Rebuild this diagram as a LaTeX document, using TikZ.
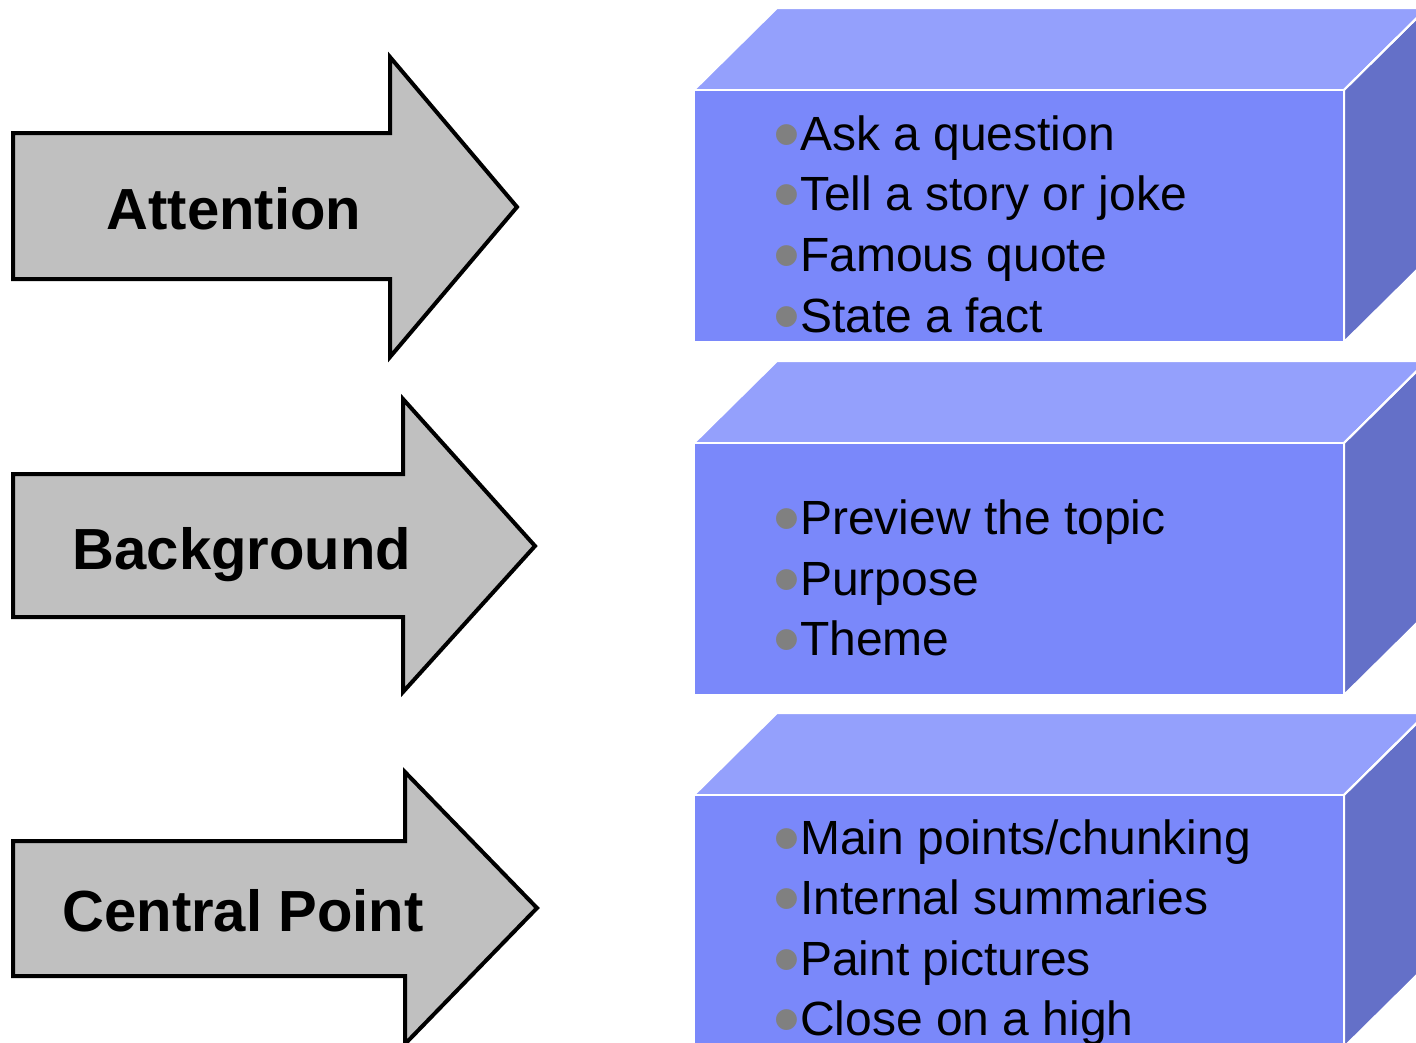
\documentclass[tikz,border=0pt]{standalone}
\usepackage{fontspec}
\usepackage{graphicx}
\setmainfont{Liberation Sans}
\definecolor{topface}{RGB}{148,160,252}
\definecolor{frontface}{RGB}{122,136,250}
\definecolor{sideface}{RGB}{100,112,200}
\definecolor{arrowfill}{RGB}{192,192,192}
\definecolor{bgray}{RGB}{128,128,128}
\newcommand{\bul}{\smash{\textcolor{bgray}{\raisebox{-10pt}{\scalebox{1.6}{•}}}}}
\tikzset{
  bigarrow/.style={draw=black, line width=4pt, fill=arrowfill, line join=miter},
  facetop/.style={fill=topface, draw=white, line width=2pt},
  facefront/.style={fill=frontface, draw=white, line width=2pt},
  faceside/.style={fill=sideface, draw=white, line width=2pt},
  arrowlabel/.style={font=\fontsize{58}{64}\selectfont\bfseries, anchor=base, inner sep=0pt},
  item/.style={font=\fontsize{48}{54}\selectfont, anchor=base west, inner sep=0pt, text=black},
}
\newcommand{\cube}[1]{%
  \fill[facetop] (694,#1) -- (777,#1-82) -- (1427,#1-82) -- (1344,#1) -- cycle;
  \fill[faceside] (1344,#1) -- (1427,#1-82) -- (1427,#1+170) -- (1344,#1+252) -- cycle;
  \fill[facefront] (694,#1) rectangle (1344,#1+252);
  \draw[white, line width=2pt] (694,#1) -- (1344,#1) -- (1344,#1+252);
  \draw[white, line width=2pt] (1344,#1) -- (1427,#1-82);
}
\begin{document}
\begin{tikzpicture}[x=1pt,y=-1pt]
\useasboundingbox (0,0) rectangle (1416,1042);
\clip (0,0) rectangle (1416,1042);
\fill[white] (0,0) rectangle (1416,1042);
% arrows
\draw[bigarrow] (13,133) -- (390,133) -- (390,57) -- (517,207) -- (390,357) -- (390,279) -- (13,279) -- cycle;
\draw[bigarrow] (13,474) -- (403,474) -- (403,399) -- (535,546) -- (403,692) -- (403,617) -- (13,617) -- cycle;
\draw[bigarrow] (13,841) -- (405,841) -- (405,772) -- (537,908) -- (405,1044) -- (405,976) -- (13,976) -- cycle;
\node[arrowlabel] (att) at (234,229) {Attention};
\node[arrowlabel] (bg) at (242,569) {Background};
\node[arrowlabel] (cp) at (243,931) {Central Point};
% cubes
\cube{90}
\cube{443}
\cube{795}
% items
\node[item] (a1) at (773,150) {\bul Ask a question};
\node[item] (a2) at (773,210) {\bul Tell a story or joke};
\node[item] (a3) at (773,271) {\bul Famous quote};
\node[item] (a4) at (773,332) {\bul State a fact};
\node[item] (b1) at (773,534) {\bul Preview the topic};
\node[item] (b2) at (773,595) {\bul Purpose};
\node[item] (b3) at (773,655) {\bul Theme};
\node[item] (c1) at (773,854) {\bul Main points/chunking};
\node[item] (c2) at (773,914) {\bul Internal summaries};
\node[item] (c3) at (773,975) {\bul Paint pictures};
\node[item] (c4) at (773,1035) {\bul Close on a high};
\end{tikzpicture}
\end{document}
